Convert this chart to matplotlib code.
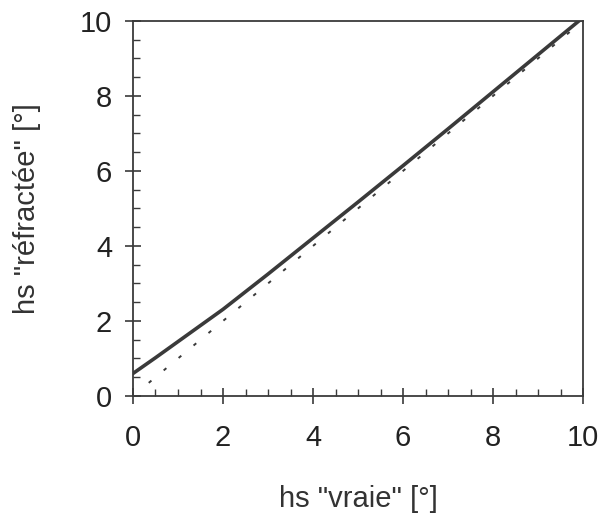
import numpy as np
import matplotlib
matplotlib.use('Agg')
import matplotlib.pyplot as plt
from matplotlib.ticker import MultipleLocator

# true altitude vs refracted altitude (degrees)
hs_vraie = [0, 0.5, 1, 1.5, 2, 3, 4, 5, 6, 7, 8, 9, 10]
hs_refr = [0.6, 1.02, 1.45, 1.88, 2.31, 3.25, 4.21, 5.17, 6.14, 7.12, 8.11, 9.10, 10.09]
ref_line = [0.35, 10]

plt.rcParams['font.family'] = ['Liberation Sans', 'DejaVu Sans']

fig = plt.figure(figsize=(5.98, 5.22), dpi=100)
ax = fig.add_axes([0.2224, 0.2414, 0.7526, 0.7186])

ink = '#3a3a3a'
ax.plot(hs_vraie, hs_refr, color=ink, lw=2.6, solid_capstyle='round')
ax.plot(ref_line, ref_line, color=ink, lw=1.4, ls=(0, (1.8, 8.2)))

ax.set_xlim(0, 10)
ax.set_ylim(0, 10)
ax.xaxis.set_major_locator(MultipleLocator(2))
ax.yaxis.set_major_locator(MultipleLocator(2))
ax.xaxis.set_minor_locator(MultipleLocator(0.5))
ax.yaxis.set_minor_locator(MultipleLocator(0.5))
ax.tick_params(which='major', direction='inout', length=12, width=1.2,
               color=ink, labelsize=21, labelcolor='#222222')
ax.tick_params(axis='x', which='major', pad=14)
ax.tick_params(axis='y', which='major', pad=9)
ax.tick_params(which='minor', direction='in', length=5, width=1.0, color=ink)

for s in ax.spines.values():
    s.set_color(ink)
    s.set_linewidth(1.3)

ax.set_xlabel('hs "vraie" [°]', fontsize=21, color='#333333', labelpad=24)
ax.set_ylabel('hs "réfractée" [°]', fontsize=21, color='#333333', labelpad=28)

fig.savefig('out.png', dpi=100)
